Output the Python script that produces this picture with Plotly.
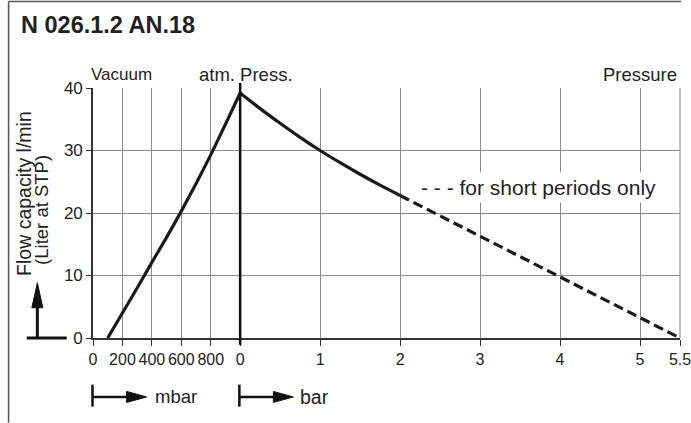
import plotly.graph_objects as go

# ---------------- data ----------------
vac_mbar = [100, 200, 300, 400, 500, 600, 700, 800, 900, 950, 1000]
vac_flow = [0.0, 4.0, 8.0, 12.1, 16.1, 20.3, 24.7, 29.3, 34.2, 36.7, 39.2]

press_bar = [0.0, 0.25, 0.5, 0.75, 1.0, 1.25, 1.5, 1.75, 2.0]
press_flow = [39.2, 36.7, 34.35, 32.1, 30.0, 28.05, 26.2, 24.45, 22.8]

short_bar = [2.0, 5.5]
short_flow = [22.8, 0.0]

mbar_ticks = [0, 200, 400, 600, 800]
bar_ticks = [0, 1, 2, 3, 4, 5, 5.5]
bar_tick_text = ["0", "1", "2", "3", "4", "5", "5.5"]
y_ticks = [0, 10, 20, 30, 40]

# ---------------- broken axis scale ----------------
VAC_W = 1.84  # width of the 0..1000 mbar section in "bar" units


def u_mbar(m):
    return (m - 1000) / 1000 * VAC_W


def u_bar(b):
    return b


W, H = 691, 423
PL, PR, PT, PB = 93, 680.5, 88, 338.3


def px(x):
    return (x - PL) / (PR - PL)


def py(y):
    return (PB - y) / (PB - PT)


FONT = "Liberation Sans, Arial, Helvetica, sans-serif"
TXT = "#222222"
CURVE = "#1a1a1a"
GRID = "#8c8c8c"

fig = go.Figure()
fig.add_trace(go.Scatter(x=[u_mbar(m) for m in vac_mbar], y=vac_flow, mode="lines",
                         line=dict(color=CURVE, width=3.2, shape="spline", smoothing=0.8),
                         hoverinfo="skip", showlegend=False))
fig.add_trace(go.Scatter(x=[u_bar(b) for b in press_bar], y=press_flow, mode="lines",
                         line=dict(color=CURVE, width=3.2, shape="spline", smoothing=0.8),
                         hoverinfo="skip", showlegend=False))
fig.add_trace(go.Scatter(x=[u_bar(b) for b in short_bar], y=short_flow, mode="lines",
                         line=dict(color=CURVE, width=3.2, dash="10px,5px"),
                         hoverinfo="skip", showlegend=False))

tickvals = [u_mbar(m) for m in mbar_ticks] + [u_bar(b) for b in bar_ticks]
ticktext = [str(m) for m in mbar_ticks] + bar_tick_text

shapes = []
# outer frame (left and top)
shapes.append(dict(type="line", xref="paper", yref="paper", x0=px(8.5), x1=px(8.5), y0=py(1.5), y1=py(423),
                   line=dict(color="#555555", width=1.5)))
shapes.append(dict(type="line", xref="paper", yref="paper", x0=px(8.5), x1=px(681.5), y0=py(1.5), y1=py(1.5),
                   line=dict(color="#555555", width=1.5)))
# right edge of the grid
shapes.append(dict(type="line", xref="paper", yref="paper", x0=1, x1=1, y0=0, y1=1,
                   line=dict(color=GRID, width=1.1), layer="below"))
# atmospheric pressure divider
shapes.append(dict(type="line", xref="x", yref="paper", x0=0, x1=0, y0=py(345), y1=py(83),
                   line=dict(color="#111111", width=2.5)))
# flow arrow at left
shapes.append(dict(type="line", xref="paper", yref="paper", x0=px(26.7), x1=px(66.7), y0=py(338.3), y1=py(338.3),
                   line=dict(color="#111111", width=3)))
shapes.append(dict(type="line", xref="paper", yref="paper", x0=px(37.3), x1=px(37.3), y0=py(338.3), y1=py(300),
                   line=dict(color="#111111", width=3)))


def tri(tip, b1, b2):
    return "M {} {} L {} {} L {} {} Z".format(px(tip[0]), py(tip[1]), px(b1[0]), py(b1[1]), px(b2[0]), py(b2[1]))


shapes.append(dict(type="path", xref="paper", yref="paper",
                   path=tri((37.3, 283), (31.8, 308), (42.8, 308)),
                   fillcolor="#111111", line=dict(color="#111111", width=1)))
# unit arrows below axis
for x0, tip in [(92.5, 146.7), (239.5, 293.5)]:
    shapes.append(dict(type="line", xref="paper", yref="paper", x0=px(x0), x1=px(x0), y0=py(385), y1=py(407),
                       line=dict(color="#111111", width=2.5)))
    shapes.append(dict(type="line", xref="paper", yref="paper", x0=px(x0), x1=px(tip - 15), y0=py(397.3), y1=py(397.3),
                       line=dict(color="#111111", width=2.5)))
    shapes.append(dict(type="path", xref="paper", yref="paper",
                       path=tri((tip, 397.3), (tip - 20, 391.8), (tip - 20, 402.8)),
                       fillcolor="#111111", line=dict(color="#111111", width=1)))

ann = []


def text(t, x, y, xanchor="left", size=18, bold=False, angle=0, bg=None, yanchor="middle"):
    d = dict(text=("<b>%s</b>" % t) if bold else t, xref="paper", yref="paper", x=px(x), y=py(y),
             xanchor=xanchor, yanchor=yanchor, showarrow=False, textangle=angle,
             font=dict(family=FONT, size=size, color=TXT))
    if bg:
        d.update(bgcolor=bg, borderpad=3)
    ann.append(d)


text("N 026.1.2 AN.18", 19, 24.5, size=23.5, bold=True)
text("Vacuum", 89, 74, size=17)
text("atm. Press.", 197, 74, size=18.5)
text("Pressure", 679, 74, xanchor="right", size=18.5)
text("- - - for short periods only", 417, 188, size=21, bg="white")
text("Flow capacity l/min", 24, 194, xanchor="center", size=19.5, angle=-90)
text("(Liter at STP)", 42, 210, xanchor="center", size=18.5, angle=-90)
text("mbar", 153, 397, size=18.5)
text("bar", 298, 397, size=19.5)

fig.update_layout(
    width=W, height=H,
    margin=dict(l=PL, r=W - PR, t=PT, b=H - PB, autoexpand=False),
    paper_bgcolor="white", plot_bgcolor="white",
    showlegend=False,
    font=dict(family=FONT, color=TXT),
    xaxis=dict(range=[u_mbar(0), 5.5], tickmode="array", tickvals=tickvals, ticktext=ticktext,
               tickangle=0, ticklabeloverflow="allow",
               ticks="outside", ticklen=6, tickwidth=1.2, tickcolor="#333333",
               showgrid=True, gridcolor=GRID, gridwidth=1.1,
               showline=True, linecolor="#333333", linewidth=1.6, zeroline=False,
               tickfont=dict(family=FONT, size=16, color=TXT), fixedrange=True),
    yaxis=dict(range=[0, 40], tickmode="array", tickvals=y_ticks,
               ticks="outside", ticklen=5, tickwidth=1.2, tickcolor="#333333",
               showgrid=True, gridcolor=GRID, gridwidth=1.1,
               showline=True, linecolor="#333333", linewidth=1.6, zeroline=False,
               tickfont=dict(family=FONT, size=17, color=TXT), fixedrange=True),
    shapes=shapes,
    annotations=ann,
)

fig.write_html("out.html", config={"displayModeBar": False},
               post_script="document.body.style.margin='0px';")
